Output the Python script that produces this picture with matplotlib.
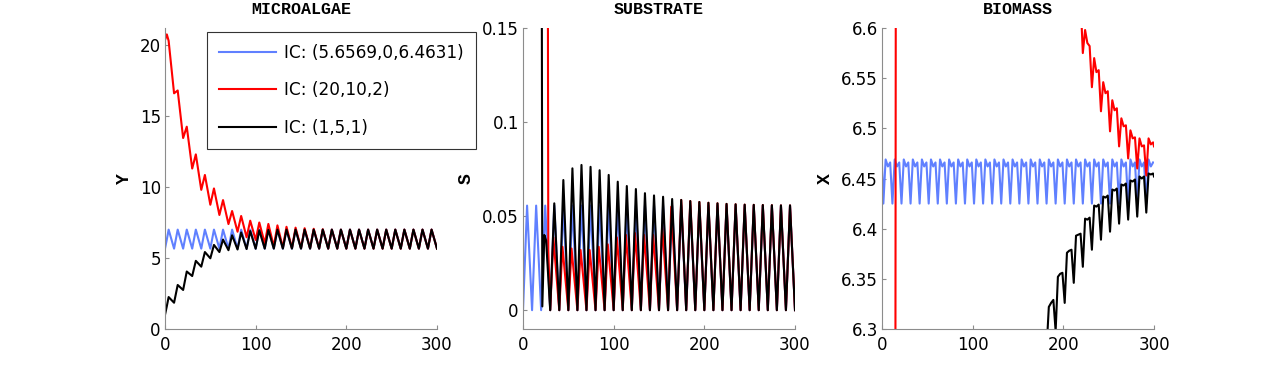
import matplotlib.pyplot as plt

plt.rcParams['font.family'] = ['DejaVu Sans']

# sample times: start, then the turning points of each 10-unit cycle
t_y = [0, 2] + [10 * k + d for k in range(30) for d in (4, 10)]
t_s = [10 * k + d for k in range(30) for d in (0, 4.5)] + [300]
t_x = [0] + [10 * k + d for k in range(30) for d in (1.5, 4, 6.5, 9)]

labels = ['IC: (5.6569,0,6.4631)', 'IC: (20,10,2)', 'IC: (1,5,1)']

# Microalgae Y (values at t_y)
blue_y = [5.66, 6.30,
          7.00, 5.66, 7.00, 5.66, 7.00, 5.66, 7.00, 5.66, 7.00, 5.66,
          7.00, 5.66, 7.00, 5.66, 7.00, 5.66, 7.00, 5.66, 7.00, 5.66,
          7.00, 5.66, 7.00, 5.66, 7.00, 5.66, 7.00, 5.66, 7.00, 5.66,
          7.00, 5.66, 7.00, 5.66, 7.00, 5.66, 7.00, 5.66, 7.00, 5.66,
          7.00, 5.66, 7.00, 5.66, 7.00, 5.66, 7.00, 5.66, 7.00, 5.66,
          7.00, 5.66, 7.00, 5.66, 7.00, 5.66, 7.00, 5.66, 7.00, 5.66]
red_y = [20.35, 20.75,
         20.30, 16.60, 16.80, 13.45, 14.25, 11.30, 12.30, 9.80, 10.85, 8.75,
         9.90, 8.03, 9.08, 7.39, 8.31, 6.85, 7.96, 6.46, 7.63, 6.27,
         7.50, 6.03, 7.40, 5.82, 7.30, 5.74, 7.20, 5.70, 7.14, 5.69,
         7.10, 5.68, 7.06, 5.67, 7.03, 5.66, 7.00, 5.66, 7.00, 5.66,
         7.00, 5.66, 7.00, 5.66, 7.00, 5.66, 7.00, 5.66, 7.00, 5.66,
         7.00, 5.66, 7.00, 5.66, 7.00, 5.66, 7.00, 5.66, 7.00, 5.66]
black_y = [1.00, 1.60,
           2.25, 1.85, 3.10, 2.75, 4.05, 3.73, 4.80, 4.39, 5.42, 4.98,
           5.92, 5.42, 6.30, 5.55, 6.60, 5.60, 6.80, 5.63, 6.90, 5.65,
           6.95, 5.66, 6.98, 5.66, 7.00, 5.66, 7.00, 5.66, 7.00, 5.66,
           7.00, 5.66, 7.00, 5.66, 7.00, 5.66, 7.00, 5.66, 7.00, 5.66,
           7.00, 5.66, 7.00, 5.66, 7.00, 5.66, 7.00, 5.66, 7.00, 5.66,
           7.00, 5.66, 7.00, 5.66, 7.00, 5.66, 7.00, 5.66, 7.00, 5.66]

# Substrate S
blue_s = [0, 0.0556, 0, 0.0556, 0, 0.0556, 0, 0.0556, 0, 0.0556,
          0, 0.0556, 0, 0.0556, 0, 0.0556, 0, 0.0556, 0, 0.0556,
          0, 0.0556, 0, 0.0556, 0, 0.0556, 0, 0.0556, 0, 0.0556,
          0, 0.0556, 0, 0.0556, 0, 0.0556, 0, 0.0556, 0, 0.0556,
          0, 0.0556, 0, 0.0556, 0, 0.0556, 0, 0.0556, 0, 0.0556,
          0, 0.0556, 0, 0.0556, 0, 0.0556, 0, 0.0556, 0, 0.0556, 0]
# the red peaks come a little earlier while it is still catching up
red_s_t = ([0, 27.0, 27.9]
           + [10 * k + d for k in range(3, 17) for d in (0, 3.5)]
           + [10 * k + d for k in range(17, 30) for d in (0, 4.5)] + [300])
red_s = [10.0, 0.30, 0.032,
         0, 0.0387, 0, 0.0337, 0, 0.0328, 0, 0.0320, 0, 0.0320,
         0, 0.0337, 0, 0.0350, 0, 0.0387, 0, 0.0400, 0, 0.0410,
         0, 0.0400, 0, 0.0400, 0, 0.0450, 0, 0.0550, 0, 0.0586,
         0, 0.0580, 0, 0.0575, 0, 0.0571, 0, 0.0568, 0, 0.0565,
         0, 0.0563, 0, 0.0561, 0, 0.0560, 0, 0.0559, 0, 0.0558,
         0, 0.0557, 0, 0.0557, 0]
black_s_t = [0, 20.3, 21.3, 23.5, 25.5] + t_s[6:]
black_s = [5.0, 0.30, 0.002, 0.040, 0.037,
           0, 0.0568, 0, 0.0692, 0, 0.0754, 0, 0.0772, 0, 0.0762,
           0, 0.0744, 0, 0.0719, 0, 0.0683, 0, 0.0660, 0, 0.0644,
           0, 0.0622, 0, 0.0610, 0, 0.0603, 0, 0.0591, 0, 0.0586,
           0, 0.0580, 0, 0.0575, 0, 0.0571, 0, 0.0568, 0, 0.0565,
           0, 0.0563, 0, 0.0561, 0, 0.0560, 0, 0.0559, 0, 0.0558,
           0, 0.0557, 0, 0.0557, 0]

# Biomass X
blue_x = [6.4631,
          6.425, 6.469, 6.462, 6.466, 6.425, 6.469, 6.462, 6.466,
          6.425, 6.469, 6.462, 6.466, 6.425, 6.469, 6.462, 6.466,
          6.425, 6.469, 6.462, 6.466, 6.425, 6.469, 6.462, 6.466,
          6.425, 6.469, 6.462, 6.466, 6.425, 6.469, 6.462, 6.466,
          6.425, 6.469, 6.462, 6.466, 6.425, 6.469, 6.462, 6.466,
          6.425, 6.469, 6.462, 6.466, 6.425, 6.469, 6.462, 6.466,
          6.425, 6.469, 6.462, 6.466, 6.425, 6.469, 6.462, 6.466,
          6.425, 6.469, 6.462, 6.466, 6.425, 6.469, 6.462, 6.466,
          6.425, 6.469, 6.462, 6.466, 6.425, 6.469, 6.462, 6.466,
          6.425, 6.469, 6.462, 6.466, 6.425, 6.469, 6.462, 6.466,
          6.425, 6.469, 6.462, 6.466, 6.425, 6.469, 6.462, 6.466,
          6.425, 6.469, 6.462, 6.466, 6.425, 6.469, 6.462, 6.466,
          6.425, 6.469, 6.462, 6.466, 6.425, 6.469, 6.462, 6.466,
          6.425, 6.469, 6.462, 6.466, 6.425, 6.469, 6.462, 6.466,
          6.425, 6.469, 6.462, 6.466, 6.425, 6.469, 6.462, 6.466]
red_x_t = [0, 14.5, 15.5, 100, 200] + t_x[85:] + [300]
red_x = [2.0, 6.0, 6.9, 6.9, 6.68,
         6.610, 6.635, 6.625, 6.628, 6.575, 6.598, 6.585, 6.582,
         6.541, 6.570, 6.556, 6.558, 6.517, 6.546, 6.535, 6.537,
         6.497, 6.528, 6.518, 6.520, 6.482, 6.510, 6.502, 6.503,
         6.470, 6.498, 6.490, 6.491, 6.460, 6.490, 6.482, 6.483,
         6.453, 6.490, 6.484, 6.486,
         6.482]
black_x_t = [0] + t_x[73:] + [300]
black_x = [1.0,
           6.280, 6.322, 6.326, 6.329, 6.298, 6.352, 6.355, 6.356,
           6.326, 6.376, 6.378, 6.379, 6.346, 6.393, 6.394, 6.395,
           6.362, 6.410, 6.409, 6.411, 6.379, 6.423, 6.422, 6.424,
           6.389, 6.432, 6.431, 6.433, 6.397, 6.439, 6.438, 6.440,
           6.405, 6.444, 6.443, 6.445, 6.409, 6.448, 6.447, 6.449,
           6.412, 6.452, 6.450, 6.452, 6.416, 6.455, 6.454, 6.455,
           6.452]

BLUE, RED, BLACK = '#6080ff', '#ff0000', '#000000'
GREY = '#8c8c8c'

fig = plt.figure(figsize=(12.73, 3.71), dpi=100)
axes = [fig.add_axes([l / 1273, 42 / 371, 272 / 1273, 301 / 371])
        for l in (165, 523, 882)]

panels = [
    ('MICROALGAE', 'Y', (t_y, blue_y), (t_y, red_y), (t_y, black_y),
     (0, 21.2), [0, 5, 10, 15, 20], ['0', '5', '10', '15', '20']),
    ('SUBSTRATE', 'S', (t_s, blue_s), (red_s_t, red_s), (black_s_t, black_s),
     (-0.01, 0.15), [0, 0.05, 0.1, 0.15], ['0', '0.05', '0.1', '0.15']),
    ('BIOMASS', 'X', (t_x, blue_x), (red_x_t, red_x), (black_x_t, black_x),
     (6.3, 6.6), [6.3, 6.35, 6.4, 6.45, 6.5, 6.55, 6.6],
     ['6.3', '6.35', '6.4', '6.45', '6.5', '6.55', '6.6']),
]

for ax, (title, ylab, b, r, k, ylim, yt, ytl) in zip(axes, panels):
    ax.plot(*b, color=BLUE, lw=1.5, label=labels[0])
    ax.plot(*r, color=RED, lw=1.5, label=labels[1])
    ax.plot(*k, color=BLACK, lw=1.5, label=labels[2])
    ax.set_xlim(0, 300)
    ax.set_ylim(*ylim)
    ax.set_xticks([0, 100, 200, 300])
    ax.set_yticks(yt)
    ax.set_yticklabels(ytl)
    for s in ('top', 'right'):
        ax.spines[s].set_visible(False)
    for s in ('left', 'bottom'):
        ax.spines[s].set_color(GREY)
    ax.tick_params(direction='in', length=3, color=GREY, labelsize=12)
    ax.tick_params(axis='x', pad=5)
    ax.tick_params(axis='y', pad=3)
    ax.set_title(title, family='Liberation Mono', weight='bold', fontsize=12, pad=10)
    ax.set_ylabel(ylab, family='Liberation Mono', weight='bold', fontsize=13,
                  labelpad=5)

leg = axes[0].legend(loc='upper left', bbox_to_anchor=(207 / 1273, 1 - 32 / 371),
                     bbox_transform=fig.transFigure, fontsize=12.2, frameon=True,
                     fancybox=False, framealpha=1, edgecolor='#333333',
                     handlelength=3.4, labelspacing=1.15, borderpad=0.7,
                     handletextpad=0.45, borderaxespad=0)
leg.get_frame().set_linewidth(0.8)

fig.savefig('out.png', dpi=100)
